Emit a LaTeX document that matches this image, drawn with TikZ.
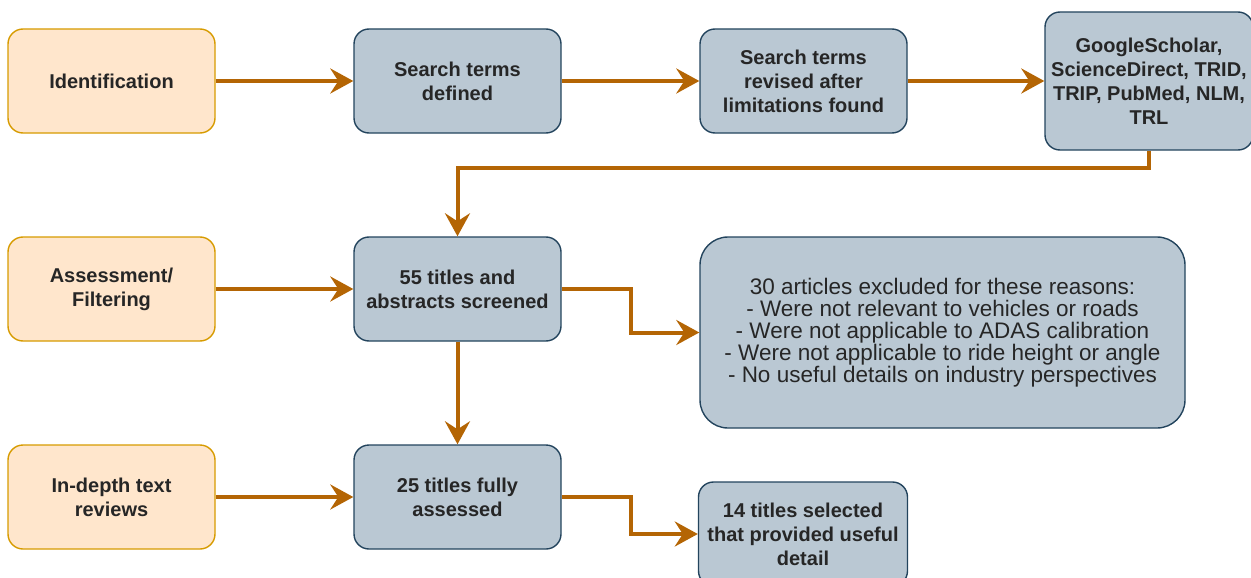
\documentclass[tikz,border=0pt]{standalone}
\usepackage{fontspec}
\setmainfont{Liberation Sans}
\usepackage{tikz}
\usetikzlibrary{arrows.meta}
\definecolor{stagefill}{HTML}{FFE6CC}
\definecolor{stageline}{HTML}{D79B00}
\definecolor{stepfill}{HTML}{BAC8D3}
\definecolor{stepline}{HTML}{23445D}
\definecolor{flowline}{HTML}{B46504}
\tikzset{
	stage/.style={draw=stageline, fill=stagefill, line width=1.4pt, rounded corners=15pt, minimum width=207pt, minimum height=104pt, align=center, font=\fontsize{20}{24}\selectfont\bfseries, text=black!85},
	stepbox/.style={draw=stepline, fill=stepfill, line width=1.4pt, rounded corners=15pt, minimum width=207pt, minimum height=104pt, align=center, font=\fontsize{20}{24}\selectfont\bfseries, text=black!85},
	flow/.style={draw=flowline, line width=4pt, -{Stealth[length=23pt, width=25pt, inset=8pt]}}
}

\begin{document}
\begin{tikzpicture}[x=1pt, y=-1pt]
			%%%%% START %%%%%
			\useasboundingbox (0, 0) rectangle (1251, 578);
			
			\node[stage] (ident) at (111.5, 81) {Identification};
			\node[stage] (assess) at (111.5, 289) {Assessment/\\Filtering};
			\node[stage] (indepth) at (111.5, 497) {In-depth text\\reviews};
			
			\node[stepbox] (defined) at (457.5, 81) {Search terms\\defined};
			\node[stepbox] (revised) at (803.5, 81) {Search terms\\revised after\\limitations found};
			\node[stepbox, minimum width=208pt, minimum height=138pt] (dbs) at (1149, 81) {GoogleScholar,\\ScienceDirect, TRID,\\TRIP, PubMed, NLM,\\TRL};
			
			\node[stepbox] (screen) at (457.5, 289) {55 titles and\\abstracts screened};
			\node[stepbox, minimum width=485pt, minimum height=191pt, rounded corners=28pt, font=\fontsize{22.5}{22}\selectfont] (excl) at (942.5, 332.5) {30 articles excluded for these reasons:\\- Were not relevant to vehicles or roads\\- Were not applicable to ADAS calibration\\- Were not applicable to ride height or angle\\- No useful details on industry perspectives};
			
			\node[stepbox] (full) at (457.5, 497) {25 titles fully\\assessed};
			\node[stepbox, minimum width=209pt] (sel) at (803, 534) {14 titles selected\\that provided useful\\detail};
			
			% top row
			\draw[flow] (ident) -- (defined);
			\draw[flow] (defined) -- (revised);
			\draw[flow] (revised) -- (dbs);
			\draw[flow] (dbs.south) -- ++(0, 17) -| (screen.north);
			
			% middle row
			\draw[flow] (assess) -- (screen);
			\draw[flow] (screen.east) -- ++(69, 0) |- (excl.west);
			\draw[flow] (screen) -- (full);
			
			% bottom row
			\draw[flow] (indepth) -- (full);
			\draw[flow] (full.east) -- ++(69, 0) |- (sel.west);
			%%%%% END %%%%%
\end{tikzpicture}
\end{document}
